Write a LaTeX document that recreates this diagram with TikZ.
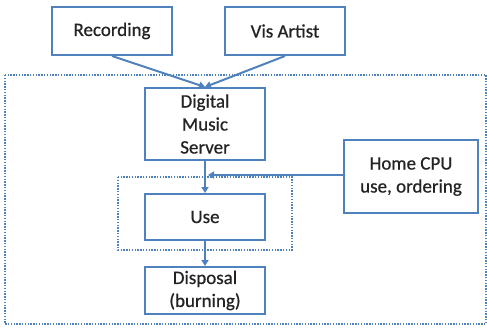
\documentclass[tikz,border=0pt]{standalone}
\usepackage{fontspec}
\setmainfont{Carlito}[FakeBold=0.6]
\usetikzlibrary{arrows.meta}
\definecolor{boxblue}{RGB}{79,129,189}
\definecolor{textgray}{RGB}{35,35,35}
\tikzset{
  box/.style={draw=boxblue, line width=2pt, fill=white, align=center,
    text=textgray, font=\fontsize{19}{23}\selectfont, inner sep=0pt},
  link/.style={draw=boxblue, line width=2pt, -{Triangle[length=6pt,width=7pt]}},
  region/.style={draw=boxblue, line width=1.5pt, dash pattern=on 1.4pt off 1.4pt}
}
\begin{document}
\begin{tikzpicture}[x=1pt,y=-1pt]
\useasboundingbox (0,0) rectangle (487,329);
% surrounding dotted regions
\draw[region] (5,75) rectangle (486,324);
\draw[region] (118,177) rectangle (292,250);
% boxes
\node[box, minimum width=120pt, minimum height=48pt] (rec) at (112,31) {Recording};
\node[box, minimum width=120pt, minimum height=48pt] (vis) at (285,31) {Vis Artist};
\node[box, minimum width=120pt, minimum height=72pt] (dms) at (205,124) {Digital\\Music\\Server};
\node[box, minimum width=134pt, minimum height=73pt] (cpu) at (411,176.5) {Home CPU\\use, ordering};
\node[box, minimum width=120pt, minimum height=46pt] (use) at (205,217) {Use};
\node[box, minimum width=120pt, minimum height=47pt] (dis) at (205,290.5) {Disposal\\(burning)};
% connectors
\draw[link] (rec.south) -- (dms.north);
\draw[link] (vis.south) -- (dms.north);
\draw[link] (dms.south) -- (use.north);
\coordinate (join) at (208,175);
\draw[link] (cpu.west |- join) -- (join);
\draw[link] (use.south) -- (dis.north);
\end{tikzpicture}
\end{document}
